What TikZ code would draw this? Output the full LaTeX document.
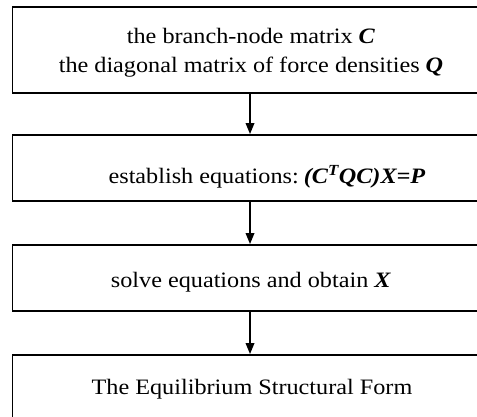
\documentclass[tikz,border=0pt]{standalone}
\usepackage{fontspec}
\setmainfont{Liberation Serif}[FakeStretch=1.1]
\usetikzlibrary{arrows.meta}
\tikzset{
  stepbox/.style={draw=black, line width=1.8bp, rectangle, inner sep=0pt,
    minimum width=477.5bp},
  steptext/.style={anchor=base, inner sep=0pt, font=\fontsize{22bp}{29bp}\selectfont},
  flow/.style={line width=1.8bp, -{Triangle[length=11bp,width=8.5bp]}}
}
\newcommand{\bi}[1]{\textbf{\textit{#1}}}
\begin{document}
\begin{tikzpicture}[x=1bp,y=1bp]
\useasboundingbox (0,0) rectangle (477,416);
\clip (0,0) rectangle (477,416);
\node[stepbox, minimum height=86bp] (b1) at (251.25,366) {};
\node[stepbox, minimum height=66bp] (b2) at (251.25,248) {};
\node[stepbox, minimum height=66bp] (b3) at (251.25,138) {};
\node[stepbox, minimum height=70bp] (b4) at (251.25,26) {};
\node[steptext] (t1a) at (251,373) {the branch-node matrix \bi{C}};
\node[steptext] (t1b) at (251,344) {the diagonal matrix of force densities \bi{Q}};
\node[steptext] (t2) at (267,233) {establish equations:\hspace{5bp}\bi{(C\textsuperscript{T}QC)X=P}};
\node[steptext] (t3) at (251,129) {solve equations and obtain \bi{X}};
\node[steptext] (t4) at (252,22) {The Equilibrium Structural Form};
\coordinate (ax) at (250,0);
\draw[flow] (b1.south -| ax) -- (b2.north -| ax);
\draw[flow] (b2.south -| ax) -- (b3.north -| ax);
\draw[flow] (b3.south -| ax) -- (b4.north -| ax);
\end{tikzpicture}
\end{document}
